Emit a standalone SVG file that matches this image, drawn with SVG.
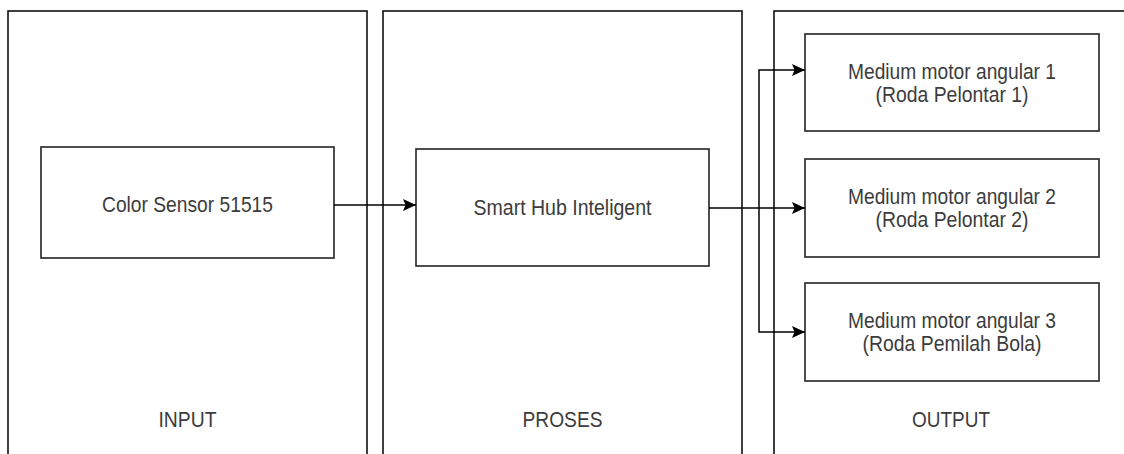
<svg xmlns="http://www.w3.org/2000/svg" width="1124" height="454" viewBox="0 0 1124 454">
  <defs>
    <marker id="arrow" viewBox="0 0 13 13" refX="13" refY="6.5" markerWidth="13" markerHeight="13" markerUnits="userSpaceOnUse" orient="auto">
      <path d="M0,0.5 L13,6.5 L0,12.5 L2.5,6.5 Z" fill="#000"/>
    </marker>
    <style>
      .panel { fill: #fff; stroke: #111; stroke-width: 1.6; }
      .box { fill: #fff; stroke: #222; stroke-width: 1.6; }
      .label { font-family: "Liberation Sans", Arial, sans-serif; font-size: 22px; fill: #3c3c3c; text-anchor: middle; }
      .wire { fill: none; stroke: #000; stroke-width: 1.5; }
    </style>
  </defs>
  <rect width="1124" height="454" fill="#fff"/>

  <!-- stage panels -->
  <g id="panel-input">
    <rect class="panel" x="8" y="11" width="359" height="460"/>
    <text class="label" x="187.5" y="427" textLength="58" lengthAdjust="spacingAndGlyphs">INPUT</text>
  </g>
  <g id="panel-proses">
    <rect class="panel" x="383" y="11" width="359" height="460"/>
    <text class="label" x="562.5" y="427" textLength="80" lengthAdjust="spacingAndGlyphs">PROSES</text>
  </g>
  <g id="panel-output">
    <rect class="panel" x="774" y="11" width="370" height="460"/>
    <text class="label" x="951" y="427" textLength="78" lengthAdjust="spacingAndGlyphs">OUTPUT</text>
  </g>

  <!-- nodes -->
  <g id="color-sensor">
    <rect class="box" x="41" y="147" width="293" height="111"/>
    <text class="label" x="187.5" y="212" textLength="171" lengthAdjust="spacingAndGlyphs">Color Sensor 51515</text>
  </g>
  <g id="smart-hub">
    <rect class="box" x="416" y="149" width="293" height="117"/>
    <text class="label" x="562.5" y="215" textLength="178" lengthAdjust="spacingAndGlyphs">Smart Hub Inteligent</text>
  </g>
  <g id="motor-1">
    <rect class="box" x="805" y="34" width="294" height="97"/>
    <text class="label" x="952" y="79" textLength="208" lengthAdjust="spacingAndGlyphs">Medium motor angular 1</text>
    <text class="label" x="952" y="102" textLength="153" lengthAdjust="spacingAndGlyphs">(Roda Pelontar 1)</text>
  </g>
  <g id="motor-2">
    <rect class="box" x="805" y="159" width="294" height="98"/>
    <text class="label" x="952" y="204" textLength="208" lengthAdjust="spacingAndGlyphs">Medium motor angular 2</text>
    <text class="label" x="952" y="227" textLength="153" lengthAdjust="spacingAndGlyphs">(Roda Pelontar 2)</text>
  </g>
  <g id="motor-3">
    <rect class="box" x="805" y="283" width="294" height="98"/>
    <text class="label" x="952" y="328" textLength="208" lengthAdjust="spacingAndGlyphs">Medium motor angular 3</text>
    <text class="label" x="952" y="351" textLength="179" lengthAdjust="spacingAndGlyphs">(Roda Pemilah Bola)</text>
  </g>

  <!-- connectors -->
  <g id="connectors">
    <line class="wire" x1="334" y1="205" x2="416" y2="205" marker-end="url(#arrow)"/>
    <line class="wire" x1="709" y1="208" x2="805" y2="208" marker-end="url(#arrow)"/>
    <polyline class="wire" points="759,208 759,70 805,70" marker-end="url(#arrow)"/>
    <polyline class="wire" points="759,208 759,332 805,332" marker-end="url(#arrow)"/>
  </g>
</svg>
